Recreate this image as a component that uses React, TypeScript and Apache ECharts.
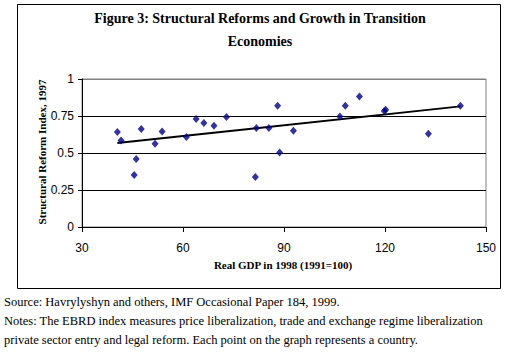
import React, { useEffect, useRef } from "react";
import * as echarts from "echarts";

const gdp1998 = [40.5, 41.6, 45.5, 46.1, 47.6, 51.7, 53.8, 61.0, 63.9, 66.2, 69.2, 72.9, 81.5, 81.8, 85.5, 88.1, 88.7, 92.8, 106.6, 108.2, 112.4, 119.8, 120.2, 132.9, 142.4];
const reformIndex = [0.642, 0.585, 0.351, 0.459, 0.662, 0.563, 0.646, 0.608, 0.730, 0.703, 0.684, 0.743, 0.338, 0.669, 0.669, 0.820, 0.504, 0.651, 0.747, 0.820, 0.882, 0.784, 0.793, 0.630, 0.820];
const trendX = [40.5, 142.4];
const trendY = [0.567, 0.815];
const xTicks = [30, 60, 90, 120, 150];
const yTicks = [0, 0.25, 0.5, 0.75, 1];

const titleLines = ["Figure 3: Structural Reforms and Growth in Transition", "Economies"];
const yName = "Structural Reform Index, 1997";
const xName = "Real GDP in 1998 (1991=100)";
const notes = [
  "Source: Havrylyshyn and others, IMF Occasional Paper 184, 1999.",
  "Notes: The EBRD index measures price liberalization, trade and exchange regime liberalization",
  "private sector entry and legal reform. Each point on the graph represents a country.",
];

export default function App() {
  const ref = useRef<HTMLDivElement>(null);
  useEffect(() => {
    document.body.style.margin = "0";
    const chart = echarts.init(ref.current!, null, { renderer: "svg" });
    const serif = "'Liberation Serif', 'Times New Roman', serif";
    chart.setOption({
      animation: false,
      backgroundColor: "#fff",
      grid: { left: 82, top: 79, width: 404, height: 148, show: true, borderColor: "#808080", borderWidth: 1 },
      xAxis: {
        type: "value",
        min: xTicks[0],
        max: xTicks[xTicks.length - 1],
        interval: 30,
        axisLine: { show: true, lineStyle: { color: "#000", width: 1 } },
        axisTick: { show: true, length: 5, lineStyle: { color: "#000" } },
        axisLabel: { margin: 15, fontFamily: "'Liberation Sans', Arial, sans-serif", fontSize: 12, color: "#000" },
        splitLine: { show: false },
      },
      yAxis: {
        type: "value",
        min: yTicks[0],
        max: yTicks[yTicks.length - 1],
        interval: 0.25,
        axisLine: { show: true, lineStyle: { color: "#000", width: 1 } },
        axisTick: { show: true, length: 4, lineStyle: { color: "#000" } },
        axisLabel: {
          margin: 8,
          fontFamily: "'Liberation Sans', Arial, sans-serif",
          fontSize: 12,
          color: "#000",
          formatter: (v: number) => String(v),
        },
        splitLine: { show: true, lineStyle: { color: ["#000", "#000", "#000", "#000", "#808080"], width: 1 } },
      },
      series: [
        {
          type: "line",
          data: trendX.map((x, i) => [x, trendY[i]]),
          symbol: "none",
          lineStyle: { color: "#000", width: 2 },
          z: 3,
        },
        {
          type: "scatter",
          data: gdp1998.map((x, i) => [x, reformIndex[i]]),
          symbol: "diamond",
          symbolSize: [7, 8],
          itemStyle: { color: "#000080" },
          z: 4,
        },
      ],
      graphic: [
        { type: "rect", shape: { x: 17.5, y: 4.5, width: 483, height: 284 }, style: { fill: "none", stroke: "#000", lineWidth: 1 }, z: 10 },
        ...titleLines.map((t, i) => ({
          type: "text",
          x: 260,
          y: 18 + i * 23,
          style: { text: t, font: `bold 14px ${serif}`, fill: "#000", textAlign: "center", textVerticalAlign: "middle" },
        })),
        {
          type: "text",
          x: 42,
          y: 152,
          rotation: Math.PI / 2,
          style: { text: yName, font: `bold 11px ${serif}`, fill: "#000", textAlign: "center", textVerticalAlign: "middle" },
        },
        {
          type: "text",
          x: 283,
          y: 265,
          style: { text: xName, font: `bold 11px ${serif}`, fill: "#000", textAlign: "center", textVerticalAlign: "middle" },
        },
        ...notes.map((t, i) => ({
          type: "text",
          x: 4,
          y: 302 + i * 19,
          style: { text: t, font: `12.5px ${serif}`, fill: "#000", textAlign: "left", textVerticalAlign: "middle" },
        })),
      ],
    });
    return () => chart.dispose();
  }, []);
  return <div ref={ref} style={{ width: 527, height: 353 }} />;
}
